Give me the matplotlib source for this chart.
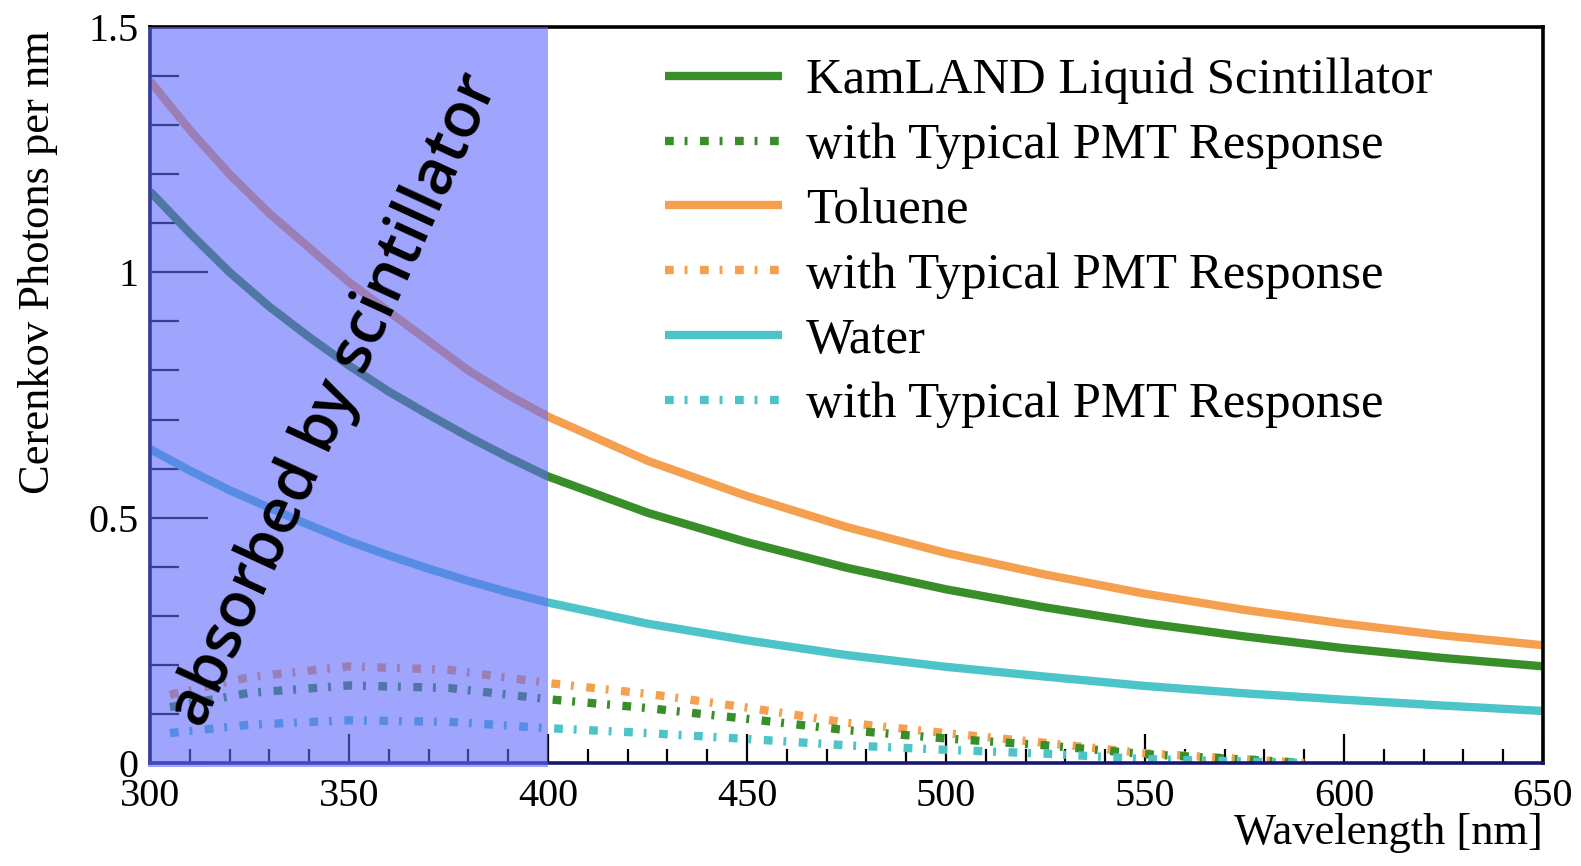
import matplotlib
matplotlib.use("Agg")
import matplotlib.pyplot as plt
from matplotlib.patches import Rectangle
from matplotlib.lines import Line2D
from matplotlib.ticker import MultipleLocator, FuncFormatter

##data
wl = [300, 310, 320, 330, 340, 350, 360, 370, 380, 390, 400,
      425, 450, 475, 500, 525, 550, 575, 600, 625, 650]
toluene = [1.39, 1.29, 1.20, 1.12, 1.05, 0.98, 0.92, 0.86, 0.80, 0.75, 0.706,
           0.616, 0.544, 0.481, 0.428, 0.384, 0.345, 0.312, 0.284, 0.26, 0.24]
kamland = [1.165, 1.08, 1.0, 0.93, 0.868, 0.81, 0.757, 0.71, 0.665, 0.623, 0.584,
           0.51, 0.45, 0.398, 0.354, 0.317, 0.285, 0.258, 0.234, 0.214, 0.197]
water = [0.64, 0.596, 0.556, 0.52, 0.485, 0.452, 0.423, 0.396, 0.371, 0.348, 0.327,
         0.284, 0.25, 0.22, 0.196, 0.176, 0.157, 0.142, 0.129, 0.117, 0.106]

wl_pmt = [305, 325, 350, 375, 400, 425, 450, 475, 500, 525, 550, 575, 590]
toluene_pmt = [0.139, 0.175, 0.197, 0.19, 0.163, 0.141, 0.113, 0.082, 0.061, 0.041, 0.02, 0.008, 0.0]
kamland_pmt = [0.114, 0.143, 0.158, 0.153, 0.13, 0.112, 0.09, 0.067, 0.05, 0.036, 0.018, 0.007, 0.0]
water_pmt = [0.061, 0.078, 0.087, 0.084, 0.071, 0.061, 0.049, 0.036, 0.027, 0.019, 0.008, 0.003, 0.0]

labels = ["KamLAND Liquid Scintillator", "with Typical PMT Response",
          "Toluene", "with Typical PMT Response",
          "Water", "with Typical PMT Response"]

GREEN = "#388e28"
ORANGE = "#f5a04f"
CYAN = "#4cc4c8"
LW = 6
DASH = (0, (1.05, 1.3, 0.35, 1.5))

plt.rcParams["font.family"] = ["Liberation Serif", "DejaVu Serif"]

fig = plt.figure(figsize=(15.81, 8.66), dpi=100)
ax = fig.add_axes([150 / 1581, 1 - 763 / 866, (1543 - 150) / 1581, (763 - 27) / 866])

##curves
ax.plot(wl, kamland, color=GREEN, lw=LW, solid_capstyle="butt", zorder=2)
ax.plot(wl, toluene, color=ORANGE, lw=LW, solid_capstyle="butt", zorder=2)
ax.plot(wl, water, color=CYAN, lw=LW, solid_capstyle="butt", zorder=2)
ax.plot(wl_pmt, toluene_pmt, color=ORANGE, lw=LW, ls=DASH, dash_capstyle="butt", zorder=2)
ax.plot(wl_pmt, kamland_pmt, color=GREEN, lw=LW, ls=DASH, dash_capstyle="butt", zorder=2)
ax.plot(wl_pmt, water_pmt, color=CYAN, lw=LW, ls=DASH, dash_capstyle="butt", zorder=2)

ax.set_xlim(300, 650)
ax.set_ylim(0, 1.5)
ax.xaxis.set_major_locator(MultipleLocator(50))
ax.xaxis.set_minor_locator(MultipleLocator(10))
ax.yaxis.set_major_locator(MultipleLocator(0.5))
ax.yaxis.set_minor_locator(MultipleLocator(0.1))
ax.yaxis.set_major_formatter(FuncFormatter(lambda v, p: f"{v:g}"))
ax.tick_params(axis="x", which="major", direction="in", length=21, width=1.6, labelsize=29, pad=11)
ax.tick_params(axis="x", which="minor", direction="in", length=10, width=1.6)
ax.tick_params(axis="y", which="major", direction="in", length=42, width=1.6, labelsize=29, pad=8)
ax.tick_params(axis="y", which="minor", direction="in", length=21, width=1.6)

for s in ["top", "right", "left"]:
    ax.spines[s].set_linewidth(2.6)
    ax.spines[s].set_color("black")
ax.spines["bottom"].set_linewidth(2.6)
ax.spines["bottom"].set_color("#16186e")

##shaded region over everything
ax.add_patch(Rectangle((299.5, -0.009), 100.5, 1.508, facecolor="#6068fa", alpha=0.6,
                       edgecolor="none", clip_on=False, zorder=5))

fig.text(335 / 1581, 1 - 400 / 866, "absorbed by scintillator", family=["Open Sans", "DejaVu Sans"],
         fontsize=45, weight="semibold", rotation=65.4, ha="center", va="center",
         rotation_mode="anchor", zorder=6)

##axis labels
fig.text(38 / 1581, 1 - 30 / 866, "Cerenkov Photons per nm", fontsize=32, rotation=90,
         ha="center", va="top")
fig.text(1543 / 1581, 1 - 833 / 866, "Wavelength [nm]", fontsize=32, ha="right", va="center")

##legend
handles = [
    Line2D([], [], color=GREEN, lw=LW, solid_capstyle="butt"),
    Line2D([], [], color=GREEN, lw=LW, ls=DASH, dash_capstyle="butt"),
    Line2D([], [], color=ORANGE, lw=LW, solid_capstyle="butt"),
    Line2D([], [], color=ORANGE, lw=LW, ls=DASH, dash_capstyle="butt"),
    Line2D([], [], color=CYAN, lw=LW, solid_capstyle="butt"),
    Line2D([], [], color=CYAN, lw=LW, ls=DASH, dash_capstyle="butt"),
]
leg = ax.legend(handles, labels, loc="upper left", bbox_to_anchor=(665 / 1581, 1 - 58 / 866),
                bbox_transform=fig.transFigure, frameon=False, fontsize=36.5,
                handlelength=2.3, handletextpad=0.48, labelspacing=0.36, borderpad=0, borderaxespad=0)
leg.set_zorder(4)

fig.savefig("out.png", dpi=100)
